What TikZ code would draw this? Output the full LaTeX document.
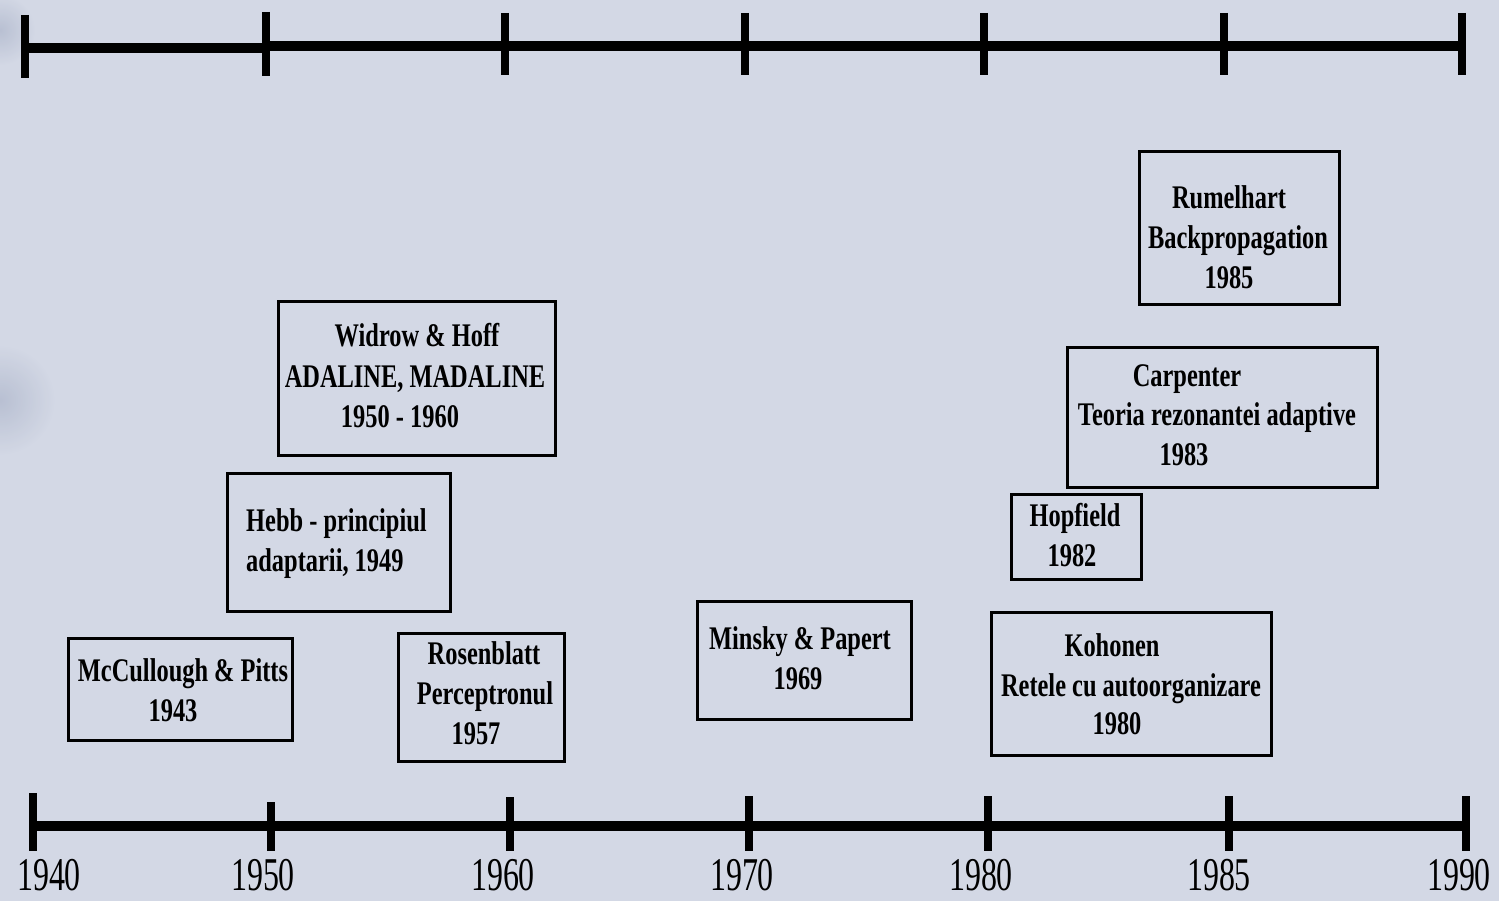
\documentclass[tikz,border=0pt]{standalone}
\usepackage{fontspec}
\setmainfont{Liberation Serif}
\newfontfamily\boxfont[FakeStretch=0.74]{Liberation Serif}
\newfontfamily\axisfont[FakeStretch=0.68]{Liberation Serif}
\definecolor{bgcol}{RGB}{211,216,229}
\definecolor{bgdark}{RGB}{178,186,206}
\begin{document}
\begin{tikzpicture}[x=1pt,y=-1pt,
  axisline/.style={line width=10pt},
  tickline/.style={line width=8pt},
  box/.style={draw, line width=3pt, inner sep=0pt},
  txt/.style={inner sep=0pt, anchor=base, font=\boxfont\bfseries\fontsize{33}{40}\selectfont},
  ltxt/.style={txt, anchor=base west},
  yr/.style={inner sep=0pt, anchor=base, font=\axisfont\fontsize{47}{54}\selectfont}]
\fill[bgcol] (0,0) rectangle (1499,901);
\useasboundingbox (0,0) rectangle (1499,901);
\shade[inner color=bgdark, outer color=bgcol, opacity=0.8] (0,30) circle (35);
\shade[inner color=bgdark, outer color=bgcol, opacity=0.8] (0,400) circle (55);
% top axis
\foreach \n/\x/\a/\b in {a/25/15/78, b/266/12/76, c/505/13/75, d/745/13/75, e/984/13/75, f/1224/13/75, g/1462/13/75}{
  \coordinate (t\n) at (\x,46);
  \coordinate (t\n u) at (\x,\a);
  \coordinate (t\n d) at (\x,\b);
}
\draw[axisline] ([yshift=-2.5pt]ta) -- ([yshift=-2.5pt]tb);
\draw[axisline] (tb) -- (tg);
\foreach \n in {a,b,c,d,e,f,g}{ \draw[tickline] (t\n u) -- (t\n d); }
% bottom axis
\foreach \n/\x/\a in {a/33/793, b/271/802, c/510/797, d/749/796, e/988/796, f/1229/796, g/1466/796}{
  \coordinate (b\n) at (\x,826);
  \coordinate (b\n u) at (\x,\a);
  \coordinate (b\n d) at (\x,851);
}
\draw[axisline] (ba) -- (bg);
\foreach \n in {a,b,c,d,e,f,g}{ \draw[tickline] (b\n u) -- (b\n d); }
\node[yr] (y40) at (49,890) {1940};
\node[yr] (y50) at (263,890) {1950};
\node[yr] (y60) at (503,890) {1960};
\node[yr] (y70) at (742,890) {1970};
\node[yr] (y80) at (981,890) {1980};
\node[yr] (y85) at (1219,890) {1985};
\node[yr] (y90) at (1459,890) {1990};
% boxes
\node[box, minimum width=224pt, minimum height=102pt] (mc) at (180,689) {};
\node[txt] (mc1) at (183,681) {McCullough \& Pitts};
\node[txt] (mc2) at (173,721) {1943};
\node[box, minimum width=223pt, minimum height=138pt] (hebb) at (338.5,542) {};
\node[ltxt] (hebb1) at (246,531) {Hebb - principiul};
\node[ltxt] (hebb2) at (246,571) {adaptarii, 1949};
\node[box, minimum width=277pt, minimum height=153pt] (wid) at (416.5,378.5) {};
\node[txt] (wid1) at (417,346) {Widrow \& Hoff};
\node[txt] (wid2) at (415,387) {ADALINE, MADALINE};
\node[txt] (wid3) at (400,427) {1950 - 1960};
\node[box, minimum width=166pt, minimum height=128pt] (ros) at (481,697) {};
\node[txt] (ros1) at (484,664) {Rosenblatt};
\node[txt] (ros2) at (485,704) {Perceptronul};
\node[txt] (ros3) at (476,744) {1957};
\node[box, minimum width=214pt, minimum height=118pt] (min) at (804,660) {};
\node[txt] (min1) at (800,649) {Minsky \& Papert};
\node[txt] (min2) at (798,689) {1969};
\node[box, minimum width=280pt, minimum height=143pt] (koh) at (1131,683.5) {};
\node[txt] (koh1) at (1112,656) {Kohonen};
\node[txt] (koh2) at (1131,696) {Retele cu autoorganizare};
\node[txt] (koh3) at (1117,734) {1980};
\node[box, minimum width=130pt, minimum height=85pt] (hop) at (1076,536.5) {};
\node[txt] (hop1) at (1075,526) {Hopfield};
\node[txt] (hop2) at (1072,566) {1982};
\node[box, minimum width=310pt, minimum height=140pt] (car) at (1222,417) {};
\node[txt] (car1) at (1187,386) {Carpenter};
\node[txt] (car2) at (1217,425) {Teoria rezonantei adaptive};
\node[txt] (car3) at (1184,465) {1983};
\node[box, minimum width=200pt, minimum height=153pt] (rum) at (1239,228.5) {};
\node[txt] (rum1) at (1229,209) {Rumelhart};
\node[txt] (rum2) at (1238,249) {Backpropagation};
\node[txt] (rum3) at (1229,289) {1985};
\end{tikzpicture}
\end{document}
